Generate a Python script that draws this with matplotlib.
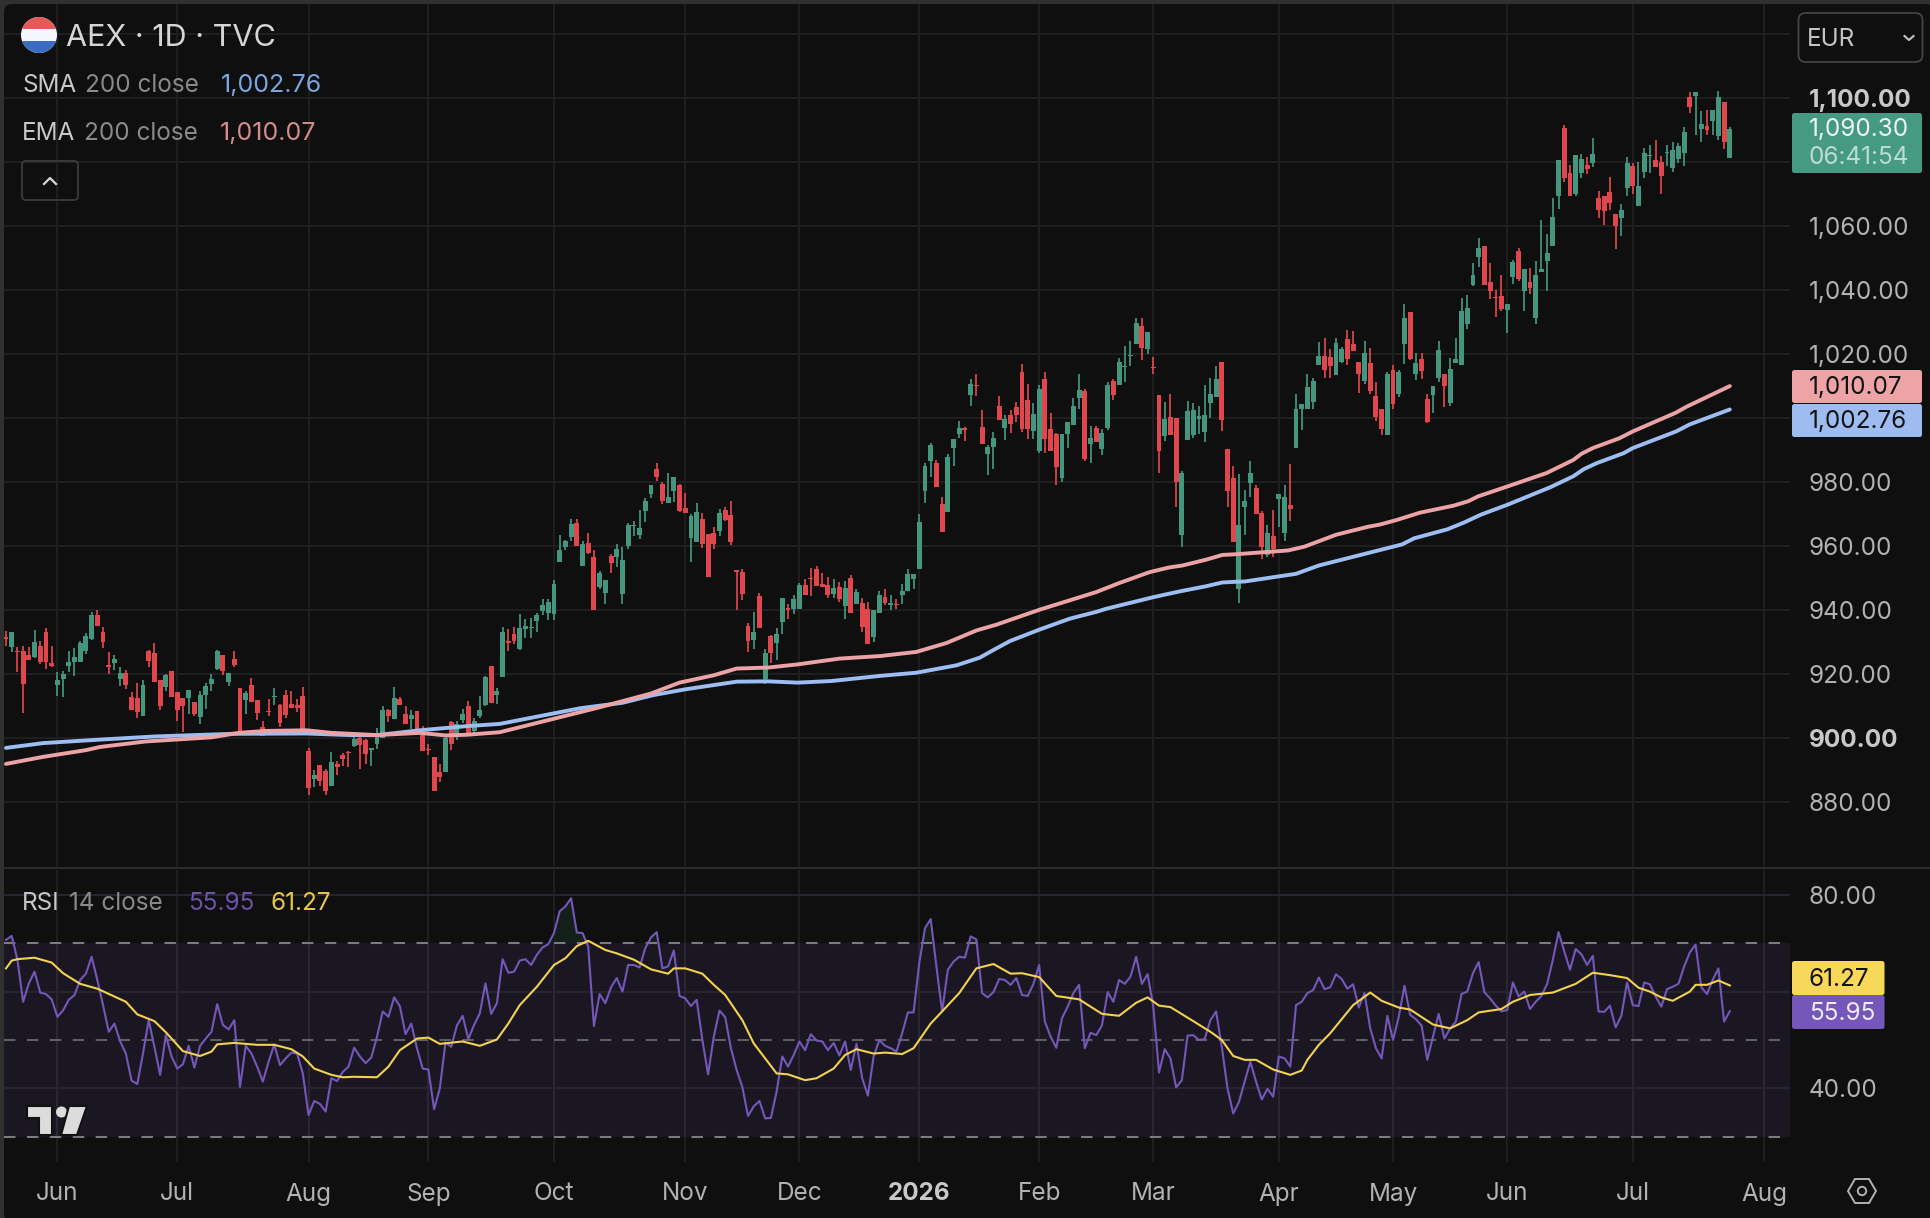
import numpy as np
import matplotlib
matplotlib.use("Agg")
import matplotlib.pyplot as plt
from matplotlib import transforms
from matplotlib.patches import Circle, FancyBboxPatch, Polygon, Rectangle

# daily AEX candles, oldest first
opens = [931.6,928.5,927.4,927.2,925.9,925.4,928.8,933.1,923.4,916.8,
 918.6,922.5,923.9,923.9,927.2,931.1,938.6,933.2,923.0,923.6,
 918.6,920.4,912.8,912.6,906.9,927.4,926.7,918.1,916.0,920.9,
 914.5,912.6,912.6,911.5,906.7,913.4,917.1,921.8,925.9,917.6,
 924.8,915.7,911.9,916.8,911.9,903.5,908.6,912.9,910.5,913.6,
 910.7,910.5,913.1,896.1,887.4,891.5,889.9,885.0,892.1,894.9,
 895.7,897.5,900.1,899.6,896.5,898.2,900.2,908.8,906.0,912.4,
 907.7,906.0,908.6,901.9,896.6,894.2,889.4,889.4,905.1,901.5,
 905.6,910.0,902.4,907.1,910.5,922.5,913.4,919.2,930.4,932.5,
 927.8,934.1,934.4,936.7,939.8,939.3,938.8,955.2,959.9,963.0,
 967.4,953.9,960.9,956.7,947.3,945.5,957.0,956.7,945.0,960.1,
 966.4,963.4,971.0,976.5,984.1,979.6,973.6,977.3,979.2,972.1,
 962.5,961.5,968.6,963.8,964.3,964.8,971.3,969.7,952.5,952.1,
 935.1,930.8,944.5,918.6,932.0,929.9,936.4,940.6,940.5,940.3,
 947.9,950.2,953.0,948.3,947.9,945.0,947.3,941.4,950.0,942.0,
 942.4,940.3,931.7,939.3,944.3,941.6,941.9,944.7,946.0,949.9,
 952.8,977.3,986.6,986.1,973.1,970.7,990.8,995.2,996.9,1007.2,
 1010.5,997.3,989.0,990.9,1004.0,997.1,1001.1,1003.5,1014.6,1005.6,
 996.1,989.8,1012.4,996.8,995.0,981.4,995.2,997.8,1006.4,1008.5,
 992.1,997.1,990.3,997.0,1011.5,1010.5,1016.0,1019.4,1023.3,1028.8,
 1021.7,1016.1,1007.2,994.4,1000.4,1000.2,963.6,993.1,994.7,999.9,
 995.7,1004.8,1006.6,1017.5,990.3,981.5,946.6,972.2,979.9,978.1,
 970.3,957.3,963.2,974.8,964.3,973.0,990.8,1003.0,1003.0,1005.1,
 1016.8,1019.4,1019.1,1013.4,1017.5,1024.8,1023.3,1017.5,1011.8,1017.3,
 1006.9,1002.8,994.9,1015.0,1007.5,1023.3,1033.1,1014.0,1018.6,1005.9,
 1007.2,1012.6,1013.8,1004.8,1017.4,1016.6,1029.6,1041.8,1050.4,1053.7,
 1042.7,1038.0,1038.1,1033.9,1044.1,1052.2,1039.8,1042.5,1031.3,1045.8,
 1049.3,1054.0,1069.5,1090.7,1076.7,1070.1,1076.8,1079.3,1079.9,1068.9,
 1069.6,1070.6,1063.7,1062.5,1072.1,1078.9,1066.5,1076.9,1081.9,1080.7,
 1080.2,1082.8,1078.1,1081.0,1082.8,1100.3,1100.6,1090.4,1091.3,1093.0,
 1088.3,1098.7,1081.2]
highs = [933.4,933.1,928.5,928.8,928.5,933.8,930.3,934.4,928.8,920.7,
 920.9,927.4,928.1,930.3,932.8,939.6,940.2,934.7,927.0,926.0,
 922.3,921.5,914.6,917.3,918.3,927.6,929.8,918.1,920.2,921.1,
 914.5,912.6,915.2,911.5,914.7,917.3,920.2,927.6,925.9,920.4,
 927.4,915.7,914.7,918.9,911.9,905.5,912.4,915.7,910.8,915.2,
 914.7,912.4,916.0,897.0,890.2,891.5,890.5,895.7,892.8,895.4,
 896.0,901.7,900.8,899.9,897.0,903.2,910.2,909.2,916.0,912.9,
 910.2,908.8,908.6,903.8,898.3,894.2,892.1,901.1,905.3,905.3,
 909.3,911.6,906.4,913.3,919.6,922.5,915.7,934.9,934.1,934.8,
 938.8,937.2,937.7,939.3,943.4,943.4,949.4,963.4,962.0,968.6,
 968.6,961.7,964.3,958.8,952.3,949.5,957.5,960.8,959.8,967.4,
 967.9,971.3,975.2,979.2,985.9,980.1,982.8,981.7,979.6,976.8,
 970.0,973.6,970.5,963.8,966.1,971.8,972.4,974.2,952.6,953.0,
 935.9,939.6,945.5,928.0,932.2,934.4,944.0,941.9,944.8,948.6,
 949.7,953.3,953.9,951.8,950.4,949.7,949.0,949.2,950.9,946.6,
 944.0,942.7,940.0,946.0,946.8,944.8,943.6,948.3,952.8,951.4,
 970.0,985.9,992.4,986.9,975.3,989.0,993.4,999.2,997.3,1012.4,
 1013.7,1002.5,991.6,995.7,1006.9,1000.9,1002.7,1005.1,1017.0,1010.6,
 1004.8,1010.3,1014.6,1001.7,995.4,995.2,998.9,1006.4,1013.7,1009.2,
 997.5,997.6,996.8,1011.3,1012.4,1018.9,1022.5,1024.1,1031.4,1031.4,
 1026.9,1019.3,1007.2,1005.1,1007.5,1000.2,983.5,1005.3,1004.8,1003.7,
 1010.5,1012.7,1016.2,1017.5,990.5,985.0,982.6,977.6,986.6,979.1,
 971.1,966.7,971.5,976.3,979.1,985.7,1007.7,1004.6,1013.7,1012.7,
 1023.8,1025.1,1021.7,1025.0,1022.4,1027.6,1027.2,1017.5,1024.3,1022.0,
 1011.5,1002.8,1014.4,1016.6,1015.0,1035.8,1033.1,1020.5,1020.4,1007.5,
 1010.0,1024.2,1013.8,1019.0,1025.2,1037.7,1038.4,1048.6,1056.4,1053.7,
 1048.5,1040.0,1044.8,1035.8,1049.5,1053.2,1046.5,1047.0,1049.3,1062.0,
 1057.6,1069.0,1080.8,1091.6,1079.3,1082.4,1082.6,1081.7,1087.6,1070.9,
 1069.6,1075.5,1063.7,1067.0,1081.7,1079.9,1080.2,1084.4,1085.4,1086.9,
 1082.1,1085.4,1086.4,1086.0,1090.9,1102.0,1102.0,1095.9,1096.4,1096.4,
 1102.3,1099.0,1090.9]
lows = [928.8,927.0,920.6,907.9,924.6,925.1,923.3,921.8,922.3,913.1,
 912.8,920.7,919.6,923.8,926.4,930.8,935.0,928.1,920.2,921.5,
 916.5,915.5,908.8,906.4,906.9,922.3,917.5,909.0,914.7,912.8,
 905.3,902.0,907.7,906.9,904.5,909.3,914.7,921.5,919.9,916.2,
 922.3,901.9,907.7,911.4,905.6,900.8,906.9,910.3,903.5,906.4,
 909.5,908.1,901.7,882.2,884.7,885.0,882.2,885.0,888.6,891.5,
 890.9,897.3,890.5,892.1,891.5,896.8,900.2,905.1,906.0,910.5,
 904.5,903.0,901.1,896.1,894.7,883.4,886.4,889.4,896.3,899.6,
 904.8,900.8,900.6,906.4,910.2,911.0,910.8,919.2,927.3,929.4,
 927.5,931.5,931.5,933.2,938.5,936.9,936.9,955.2,958.8,961.7,
 960.1,953.9,957.5,940.0,946.6,941.9,951.8,953.6,941.9,959.3,
 963.2,962.4,967.6,975.2,980.4,973.1,973.6,974.0,970.8,970.3,
 955.2,961.5,959.6,950.5,959.3,963.2,967.9,960.3,940.0,943.1,
 927.1,928.0,934.5,916.9,923.6,924.4,932.7,937.2,938.8,940.3,
 944.8,944.5,947.6,947.3,944.0,944.0,942.6,937.2,939.3,942.0,
 933.2,929.4,930.1,939.3,941.6,940.1,940.5,941.9,946.0,946.6,
 952.8,973.4,981.7,978.4,964.6,970.7,985.2,994.0,992.8,1003.8,
 1006.9,992.1,982.2,984.1,999.6,993.1,995.5,998.9,995.7,993.4,
 993.4,989.3,989.2,989.8,979.3,980.0,990.8,997.8,1003.0,986.6,
 985.9,992.6,988.5,996.5,1005.8,1010.5,1011.5,1016.5,1023.3,1018.1,
 1020.0,1013.7,983.0,992.9,994.7,972.2,959.9,993.1,994.0,995.2,
 992.6,1000.2,1006.6,996.0,972.4,961.2,942.3,963.6,975.3,970.1,
 956.0,956.8,956.8,966.1,961.8,968.0,990.8,996.3,1003.0,1003.0,
 1016.8,1012.6,1012.6,1013.4,1017.3,1016.8,1020.9,1007.9,1010.8,1007.5,
 999.2,994.7,994.7,1003.0,1006.7,1016.9,1018.3,1011.9,1012.2,998.6,
 1001.8,1011.4,1003.5,1003.9,1017.4,1016.6,1028.0,1041.2,1047.4,1041.8,
 1037.2,1031.6,1033.5,1026.8,1042.0,1042.8,1033.5,1038.9,1029.6,1045.8,
 1039.8,1054.0,1065.4,1073.7,1069.4,1069.4,1075.1,1076.2,1078.4,1062.5,
 1060.5,1065.2,1052.8,1056.9,1069.5,1070.1,1066.5,1075.1,1076.7,1078.4,
 1070.1,1078.7,1076.9,1079.8,1078.7,1095.4,1088.6,1086.2,1088.6,1088.6,
 1087.0,1084.3,1081.2]
closes = [930.9,933.1,927.0,917.1,924.6,930.0,923.9,923.9,922.6,918.3,
 920.2,923.9,925.3,929.8,931.9,938.6,935.0,930.1,922.4,924.9,
 920.5,916.8,908.8,908.1,916.8,924.3,917.5,910.2,919.9,912.8,
 908.8,910.0,915.2,907.7,913.6,916.5,918.6,927.4,920.9,920.4,
 922.9,901.9,914.2,911.4,907.9,900.8,908.2,913.3,904.8,907.4,
 909.5,909.5,901.7,884.5,888.6,886.6,883.4,892.5,891.0,893.5,
 895.3,899.9,898.0,895.2,897.0,901.7,908.8,906.9,912.7,910.5,
 904.5,907.4,902.7,896.1,896.3,883.4,887.8,900.1,898.3,904.5,
 907.6,901.1,905.5,908.8,919.1,911.0,914.7,933.2,929.9,930.4,
 934.6,935.1,934.8,938.5,941.7,942.6,948.1,958.8,961.7,966.9,
 960.1,960.6,958.0,940.0,951.8,949.5,954.9,959.1,955.6,966.6,
 966.8,965.8,974.0,979.2,981.7,974.2,975.4,981.7,971.0,970.5,
 969.5,970.8,960.6,950.5,960.6,970.5,968.2,961.4,952.1,945.0,
 930.4,933.2,934.5,926.8,926.6,932.5,943.8,940.0,943.4,947.8,
 944.8,949.8,947.6,947.3,944.8,947.1,943.4,947.1,939.3,945.8,
 934.8,929.4,940.0,944.7,942.4,942.2,941.8,946.0,951.3,951.4,
 967.5,985.2,991.6,978.4,964.6,988.0,993.4,997.1,996.5,1010.8,
 1010.1,992.1,990.9,993.7,999.6,999.7,998.1,1000.9,996.8,996.6,
 1001.2,1009.2,993.5,989.8,984.8,995.2,998.9,1003.7,1008.7,987.4,
 993.7,992.6,995.5,1010.3,1007.4,1017.5,1016.4,1019.8,1029.7,1022.0,
 1026.9,1015.7,989.7,999.7,994.7,980.0,983.0,1002.2,1002.5,1000.7,
 1001.1,1007.5,1012.4,999.6,977.3,961.2,966.5,974.1,983.0,970.1,
 959.9,964.3,959.1,976.3,975.5,971.8,1002.8,1004.6,1009.8,1011.8,
 1019.6,1015.0,1016.3,1023.6,1021.7,1018.6,1020.9,1013.7,1020.5,1008.5,
 1000.4,996.8,1013.9,1004.6,1014.5,1031.3,1018.6,1017.4,1014.7,999.0,
 1010.0,1021.5,1010.0,1015.5,1018.6,1033.4,1034.6,1044.8,1053.2,1041.8,
 1039.8,1037.6,1034.3,1035.8,1049.0,1043.4,1046.5,1040.6,1044.8,1046.6,
 1051.6,1063.0,1080.8,1075.1,1069.4,1082.4,1081.1,1077.9,1082.6,1065.2,
 1064.9,1067.4,1060.2,1065.1,1079.9,1072.7,1072.5,1082.9,1082.4,1078.4,
 1075.6,1083.2,1083.8,1085.2,1089.6,1097.4,1102.0,1091.9,1090.1,1096.4,
 1100.5,1086.2,1090.3]

# moving averages on the price pane (day index, value)
sma_days = [0,6.5,16.5,26.4,39.8,52.7,60.3,65,72.5,80.7,86.5,100.6,108,113.4,119,128,133.5,138.7,144.6,153.1,159.5,166.5,170.6,173.2,175.9,181.1,186.4,191,192.8,201,205.6,210.2,213.1,215.3,217,226,230,244.6,246.7,252.5,255.4,258.4,263.2,270.6,274.6,276.4,278.7,283.4,285,292.6,295,302]
sma_vals = [897,898.5,899.6,900.6,901.4,901.5,901,901,902.5,903.8,904.5,909.4,911.1,913.5,915.3,917.7,917.8,917.4,917.9,919.5,920.5,922.8,925.2,927.8,930.4,934,937.4,939.5,940.5,944.1,945.9,947.5,948.7,948.9,949,951.4,954,960.6,962.5,965.3,967.4,969.9,973.1,978.5,981.9,984.1,986,989.1,990.7,995.9,998.1,1002.76]
ema_days = [0,6.5,14,16.5,24.4,36,40.8,45.4,52.7,57,65,72.5,77,80.7,86.5,103.8,113,118,124,128,133.5,138.7,146,153.1,159.5,164.8,170,173.5,181.1,191,195,200.3,203.8,206.1,210.2,213.1,215.3,224.6,227.5,233,238.6,240.7,243.6,247.7,253.6,256.2,257.9,263.2,269.9,274.6,276,278,282.7,285,292.6,294.4,302]
ema_vals = [892,894.2,896.3,897.3,899,900.3,901.7,902.3,902.5,901.7,901,901.7,900.9,901.1,901.9,909.6,914,917.4,919.7,921.8,922.1,923.1,924.9,925.7,927,929.8,933.7,935.5,940.2,945.7,948.5,951.9,953.4,954,955.8,957.3,957.5,958.7,959.9,963.6,966.1,966.8,968.2,970.5,972.7,974.1,975.6,978.8,982.9,987,988.9,990.7,993.8,995.9,1001.8,1003.6,1010.07]

# RSI 14, one value per day
rsi = [70.7,71.5,66.6,57.9,61.7,64.1,59.8,59.5,58.4,54.8,
 56.1,58.3,59.3,62.4,63.7,67.2,62.4,57.2,51.7,53.4,
 49.7,47.2,41.6,40.9,47.2,54.1,48.6,42.8,51.0,46.6,
 44.1,45.0,48.8,44.3,48.8,50.3,51.7,57.4,53.1,52.2,
 54.1,40.3,48.8,47.2,44.5,41.4,45.5,49.1,44.8,46.2,
 47.4,47.2,43.1,34.5,37.4,36.8,35.2,42.1,41.5,43.4,
 44.5,48.4,46.6,45.2,46.4,50.7,55.9,54.8,58.8,57.0,
 51.2,53.4,48.3,44.1,43.9,35.7,40.0,49.5,48.6,53.0,
 55.0,50.2,53.1,55.5,61.7,55.4,57.6,66.7,63.9,64.1,
 66.4,66.7,65.5,67.6,69.1,69.8,72.1,76.6,77.6,79.3,
 72.2,72.1,69.3,52.9,59.5,57.6,60.9,62.8,60.0,65.5,
 65.5,65.0,69.0,71.2,72.3,64.8,65.2,68.5,59.1,58.6,
 57.0,58.3,50.0,42.9,50.7,56.1,54.7,48.3,43.8,40.3,
 34.3,36.3,37.4,33.8,33.9,39.3,46.6,44.5,46.9,49.7,
 47.9,51.2,49.9,49.7,47.9,49.4,46.8,49.7,43.8,49.2,
 42.1,38.5,46.6,50.0,48.8,48.3,47.6,51.4,55.7,55.7,
 65.9,73.1,75.0,65.2,55.9,64.5,66.2,67.2,67.0,71.4,
 70.8,59.7,58.8,59.9,62.6,62.4,61.4,62.8,59.3,59.1,
 61.6,65.5,53.8,50.7,48.4,54.5,56.9,59.7,61.4,48.3,
 51.5,51.0,53.0,59.9,57.9,62.4,61.6,63.1,67.2,61.6,
 63.6,56.9,43.3,48.1,46.2,40.2,41.7,50.9,51.0,50.0,
 50.2,54.1,55.9,48.6,40.0,34.8,37.2,41.4,45.5,41.4,
 37.7,39.9,38.3,46.6,46.2,44.5,57.2,57.9,59.7,60.3,
 62.9,60.5,60.9,63.6,62.6,60.6,61.5,56.7,59.7,52.4,
 48.3,46.2,55.0,50.0,54.8,61.2,55.2,54.3,53.0,45.9,
 50.7,55.4,50.3,52.4,53.8,59.5,60.0,63.8,66.1,59.9,
 58.6,57.1,55.9,56.2,61.9,59.0,60.0,56.4,57.9,59.1,
 61.6,66.6,72.3,68.3,64.5,68.8,67.7,65.5,67.4,55.9,
 55.8,57.1,52.6,55.0,61.9,57.2,57.0,61.9,61.5,59.0,
 56.9,60.5,61.0,61.6,65.2,68.1,69.7,60.9,59.5,62.4,
 64.8,53.8,55.95]
# RSI moving average
rsi_ma_days = [0,1,2,5,8,10,13,16,21,23,26,28,31,34,36,37,40,44,47,50,52,54,57,59,61,65,67,69,72,74,76,80,83,86,88,90,93,96,98,100,102,105,107,110,113,116,117,119,122,124,126,129,131,135,137,140,142,145,147,149,152,154,157,159,162,164,167,170,173,176,178,181,184,188,192,195,198,200,202,204,208,211,213,215,217,219,222,225,227,228,230,232,236,239,241,244,246,250,253,256,258,262,264,267,271,275,278,281,284,286,288,290,292,295,296,298,300,302]
rsi_ma = [64.8,66.4,66.7,67,66,63.8,61.6,60.6,57.9,55.3,53.9,51.6,47.7,46.7,47.6,49.1,49.4,49,49,48.1,46.6,44.1,42.8,42.3,42.4,42.3,44.5,47.9,50.3,50.5,49.2,49.7,48.8,50.1,53.4,57.2,61,65.5,66.9,69.4,70.5,68.6,67.9,66.6,64.6,63.7,64.8,64.8,63.7,61.4,59.3,54.1,49.3,43.1,42.9,41.7,42.1,44.1,46.9,48.1,47.2,47.4,47.1,48.3,53.4,55.9,59.7,64.8,65.7,63.7,63.8,63,59.1,58.4,55.4,55,57.7,58.8,57.1,56.8,53.9,51.7,50,46.7,45.9,45.9,43.9,42.8,43.7,45.9,49,51.4,57.2,59.8,58.1,56.7,56.3,53.2,52.4,54.1,55.7,56.4,57.9,59.3,59.8,61.6,63.9,63.4,62.8,60.8,60,58.8,58.1,60,61.4,61.4,62.3,61.27]

price_ticks = [880,900,920,940,960,980,1000,1020,1040,1060,1080,1100,1120]
price_labels = {880:"880.00",900:"900.00",920:"920.00",940:"940.00",960:"960.00",980:"980.00",1020:"1,020.00",1040:"1,040.00",1060:"1,060.00",1100:"1,100.00"}
rsi_ticks = [40,60,80]
month_days = [9,30,53,74,96,119,139,160,181,201,223,243,263,285,308]
month_names = ["Jun","Jul","Aug","Sep","Oct","Nov","Dec","2026","Feb","Mar","Apr","May","Jun","Jul","Aug"]

W, H = 1930, 1218
BG = "#0f0f0f"
GREEN = "#45967f"
RED = "#e0474c"
SMA_C = "#9dbef2"
EMA_C = "#eca3a5"
RSI_C = "#7457b8"
MA_C = "#f2d24f"
GRID = "#1e1e1e"
TXT = "#b2b2b2"
FONT = "Inter"
FS = 17.5

plt.rcParams["font.family"] = [FONT, "DejaVu Sans"]
fig = plt.figure(figsize=(W/100, H/100), dpi=100, facecolor="#303030")

def pane(x0, y0, x1, y1):
    return fig.add_axes([x0/W, 1-y1/H, (x1-x0)/W, (y1-y0)/H])

def day_lim(x0, x1):
    return (x0-6)/5.708, (x1-6)/5.708

# full figure layer in pixels, for everything outside the data panes
back = pane(0, 0, W, H)
back.set_xlim(0, W); back.set_ylim(H, 0); back.axis("off")
back.add_patch(FancyBboxPatch((4, 4), W, H, boxstyle="round,pad=0,rounding_size=8", fc=BG, ec="none"))

ax = pane(4, 4, 1790, 868)
ax.set_xlim(*day_lim(4, 1790))
ax.set_ylim(1100-(868-98.3)/3.2, 1100+(98.3-4)/3.2)
ax2 = pane(4, 870, 1790, 1162)
ax2.set_xlim(*day_lim(4, 1790))
ax2.set_ylim(50-(1162-1040)/4.84, 50+(1040-870)/4.84)
for a in (ax, ax2):
    a.patch.set_alpha(0)
    for s in a.spines.values():
        s.set_visible(False)
    a.set_xticks([]); a.set_yticks([])
    for d in month_days:
        a.axvline(d, color=GRID, lw=1.5, zorder=1)

for p in price_ticks:
    ax.axhline(p, color=GRID, lw=1.5, zorder=1)

# candles
days = np.arange(len(closes))
o, h, l, c = map(np.array, (opens, highs, lows, closes))
cols = np.where(c >= o, GREEN, RED)
ax.vlines(days, l, h, colors=cols, lw=1.25, zorder=3)
ax.bar(days, np.abs(c-o), bottom=np.minimum(o, c), width=0.86, color=cols, lw=0, zorder=3)
ax.plot(sma_days, sma_vals, color=SMA_C, lw=2.8, zorder=4, solid_capstyle="round")
ax.plot(ema_days, ema_vals, color=EMA_C, lw=2.8, zorder=5, solid_capstyle="round")

# RSI pane
ax2.axhspan(30, 70, color="#1a1723", lw=0, zorder=0.5)
ax2.vlines(month_days, 30, 70, color="#2a2733", lw=1.5, zorder=1)
for t in rsi_ticks:
    ax2.axhline(t, color="#26242c", lw=1.5, zorder=1)
for t, col in ((70, "#7d7b82"), (50, "#5f5d66"), (30, "#7d7b82")):
    ax2.axhline(t, color=col, lw=1.5, dashes=(5.5, 5.5), zorder=2)
rsi_arr = np.array(rsi)
ax2.fill_between(days, 70, rsi_arr, where=rsi_arr > 70, interpolate=True, color="#141f1a", lw=0, zorder=1.5)
ax2.plot(days, rsi, color=RSI_C, lw=1.5, zorder=3)
ax2.plot(rsi_ma_days, rsi_ma, color=MA_C, lw=1.5, zorder=4)

# pane divider
top = pane(0, 0, W, H)
top.set_xlim(0, W); top.set_ylim(H, 0); top.axis("off"); top.patch.set_alpha(0)
top.add_patch(Rectangle((4, 866.5), W, 2, fc="#2c2c2c", ec="none"))

# axis labels, left aligned in the price scale
y_price = transforms.blended_transform_factory(top.transData, ax.transData)
y_rsi = transforms.blended_transform_factory(top.transData, ax2.transData)
x_day = transforms.blended_transform_factory(ax.transData, top.transData)
for p, s in price_labels.items():
    bold = p in (900, 1100)
    top.text(1809, p-0.7, s, transform=y_price, ha="left", va="center", fontsize=FS, color="#c8c8c8" if bold else TXT,
             fontweight="bold" if bold else "normal")
for t, s in ((80, "80.00"), (40, "40.00")):
    top.text(1809, t-0.5, s, transform=y_rsi, ha="left", va="center", fontsize=FS, color=TXT)

# last value tags
def tag(ya, yb, col, x1=1922):
    top.add_patch(FancyBboxPatch((1792, ya), x1-1792, yb-ya, boxstyle="round,pad=0,rounding_size=2.5", fc=col, ec="none", zorder=5))

tag(113, 173, "#479a82")
top.text(1809, 129.5, "1,090.30", va="center", fontsize=FS, color="#eef5f2", zorder=6)
top.text(1809, 157, "06:41:54", va="center", fontsize=FS, color="#bcdcd2", zorder=6)
tag(370, 403, "#eea3a6")
top.text(1809, 387.5, "1,010.07", va="center", fontsize=FS, color="#131313", zorder=6)
tag(404, 437, "#9dbdf1")
top.text(1809, 421, "1,002.76", va="center", fontsize=FS, color="#131313", zorder=6)
tag(961, 995, "#f7d858", 1884.5)
top.text(1809, 979.5, "61.27", va="center", fontsize=FS, color="#131313", zorder=6)
tag(995, 1029, "#7457b8", 1884.5)
top.text(1809, 1013, "55.95", va="center", fontsize=FS, color="#f0ecfa", zorder=6)

# month labels
for d, s in zip(month_days, month_names):
    bold = s == "2026"
    top.text(d, 1194, s, transform=x_day, ha="center", va="center", fontsize=FS, color="#c8c8c8" if bold else TXT,
             fontweight="bold" if bold else "normal")

# legend rows
top.add_patch(Circle((39, 35), 18, fc="#f5f6ff", ec="none"))
clip = Circle((39, 35), 18, transform=top.transData)
r1 = top.add_patch(Rectangle((20, 16), 38, 13, fc="#e65b59", ec="none")); r1.set_clip_path(clip)
r2 = top.add_patch(Rectangle((20, 41), 38, 13, fc="#3a6cc4", ec="none")); r2.set_clip_path(clip)
top.text(66, 38, "AEX · 1D · TVC", va="center", fontsize=22, color="#d6d6d6")
top.text(22, 85.5, "SMA", va="center", fontsize=FS, color="#c8c8c8")
top.text(85, 85.5, "200 close", va="center", fontsize=FS, color="#8a8a8a")
top.text(221, 85.5, "1,002.76", va="center", fontsize=FS+0.5, color="#7ba6e0")
top.text(22, 133.5, "EMA", va="center", fontsize=FS, color="#c8c8c8")
top.text(84, 133.5, "200 close", va="center", fontsize=FS, color="#8a8a8a")
top.text(220, 133.5, "1,010.07", va="center", fontsize=FS+0.5, color="#d68a8b")
top.text(22, 903, "RSI", va="center", fontsize=FS, color="#c8c8c8")
top.text(69, 903, "14 close", va="center", fontsize=FS, color="#8a8a8a")
top.text(188, 903, "55.95", va="center", fontsize=FS, color="#6c54ad")
top.text(270, 903, "61.27", va="center", fontsize=FS, color="#e6c74a")

# collapse button and currency selector
top.add_patch(FancyBboxPatch((22, 161), 56, 39, boxstyle="round,pad=0,rounding_size=4", fc="none", ec="#3c3c3c", lw=1.3))
top.plot([44, 50, 56], [184, 178, 184], color="#d8d8d8", lw=1.6)
top.add_patch(FancyBboxPatch((1798.5, 13), 124, 49, boxstyle="round,pad=0,rounding_size=7", fc="none", ec="#444444", lw=1.3))
top.text(1807, 39.5, "EUR", va="center", fontsize=FS, color="#c4c4c4")
top.plot([1904.5, 1909, 1913.5], [36, 40, 36], color="#c4c4c4", lw=1.5)

# chart logo
logo = "#dcdcdc"
top.add_patch(Polygon([(27, 1106), (52, 1106), (52, 1135), (39, 1135), (39, 1118), (27, 1118)], fc=logo, ec="#111111", lw=1.5, zorder=6))
top.add_patch(Circle((61.5, 1112), 5.5, fc=logo, ec="none", zorder=6))
top.add_patch(Polygon([(69, 1106), (87, 1106), (77, 1135), (61, 1135)], fc=logo, ec="#111111", lw=1.5, zorder=6))

# settings icon
top.add_patch(Polygon([(1848, 1191), (1855, 1179), (1869, 1179), (1876, 1191), (1869, 1203), (1855, 1203)], fc="none", ec=TXT, lw=1.4))
top.add_patch(Circle((1862, 1191), 4.2, fc="none", ec=TXT, lw=1.4))

fig.savefig("out.png", dpi=100, facecolor=fig.get_facecolor())
